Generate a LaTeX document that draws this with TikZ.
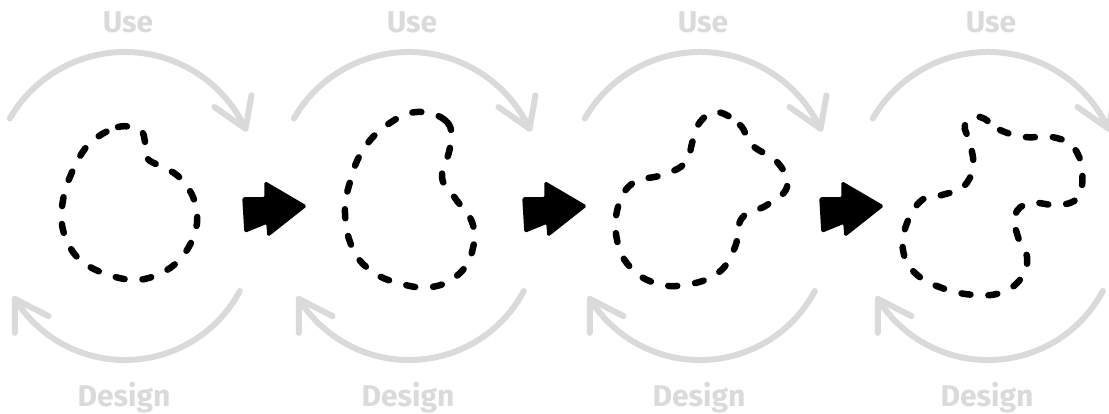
\documentclass[tikz,border=0pt]{standalone}
\usepackage{fontspec}
\setmainfont{Fira Sans}
\definecolor{loopgray}{HTML}{DADADA}
\begin{document}
\begin{tikzpicture}[x=1pt, y=-1pt,
    loop/.style={draw=loopgray, line width=6pt, line cap=round, line join=round},
    blob/.style={draw=black, line width=6.5pt, line cap=round, dash pattern=on 9pt off 18pt},
    label/.style={text=loopgray, anchor=base, font=\fontsize{30}{30}\selectfont\bfseries},
    chevron/.style={fill=black, draw=black, line width=1.5pt, line join=round, rounded corners=1.5pt}]
  \useasboundingbox (0,0) rectangle (1109,414);
  % use / design loops round each version
  \foreach \i/\dx in {1/0, 2/284, 3/575, 4/863} {
    \begin{scope}[xshift=\dx]
      \node[label] (use\i) at (128,33) {Use};
      \node[label] (design\i) at (124,406) {Design};
      \draw[loop] (125,185) ++(-150:133) arc (-150:-25:133) coordinate (usehead\i)
        -- ++(-80:34) (usehead\i) -- ++(-145:38);
      \draw[loop] (125,230) ++(28:130) arc (28:148:130) coordinate (designhead\i)
        -- ++(27:38) (designhead\i) -- ++(90:34);
    \end{scope}
  }
  % the shape as it grows
  \draw[blob] plot[smooth cycle, tension=0.6] coordinates {(90,143) (118,127) (140,130) (145,142)
    (147,158) (160,166) (178,176) (193,197) (197,223) (187,250) (167,270) (137,280) (103,273)
    (77,257) (63,230) (63,200) (73,170)};
  \draw[blob] plot[smooth cycle, tension=0.7] coordinates {(417,112) (447,122) (450,147) (442,177)
    (455,198) (472,222) (473,248) (460,273) (432,287) (398,283) (370,270) (352,247) (345,213)
    (350,182) (363,150) (387,125)};
  \draw[blob] plot[smooth cycle, tension=0.7] coordinates {(717,112) (740,125) (752,145) (778,163)
    (787,187) (767,205) (742,218) (735,247) (718,273) (685,285) (655,283) (630,267) (617,240)
    (618,207) (633,183) (662,175) (685,163) (693,140) (700,122)};
  \draw[blob] plot[smooth cycle, tension=0.7] coordinates {(980,117) (1000,130) (1025,137)
    (1052,137) (1073,147) (1082,170) (1078,197) (1058,205) (1030,203) (1015,215) (1018,237)
    (1027,257) (1022,277) (1003,292) (975,295) (942,288) (915,273) (903,250) (907,223)
    (922,200) (942,195) (963,187) (973,167) (970,143) (965,125)};
  % steps between versions
  \foreach \dx in {0, 280, 577} {
    \draw[chevron, xshift=\dx] (243,198) -- (265,198) -- (265,182) -- (306,206) -- (268,236)
      -- (267,223) -- (245,232) -- cycle;
  }
\end{tikzpicture}
\end{document}
